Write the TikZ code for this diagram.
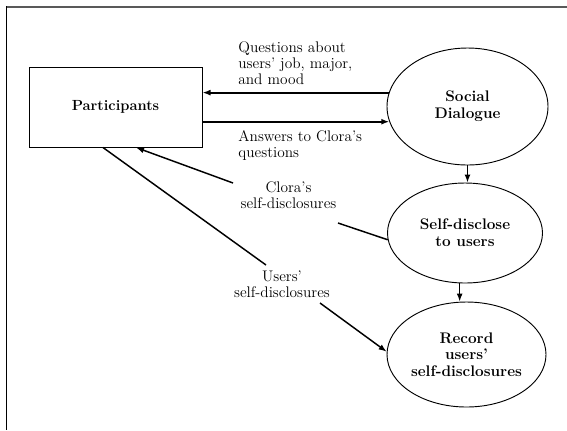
\documentclass[tikz,border=0pt]{standalone}
\usepackage{tikz}
\usetikzlibrary{shapes.geometric, arrows.meta, positioning}

\begin{document}
\begin{tikzpicture}[x=0.75pt, y=-0.75pt,
  font=\fontsize{11.5}{12}\selectfont,
  proc/.style={draw, ellipse, line width=0.7pt, inner sep=0pt, align=center,
               font=\fontsize{11.5}{12.5}\selectfont\bfseries},
  flow/.style={-{Latex[length=6pt,width=4.5pt]}, line width=1.1pt},
  link/.style={line width=1.1pt},
  lbl/.style={align=left, inner sep=1pt}]
  \useasboundingbox (0,0) rectangle (567,430);
  % frame
  \draw[gray!70!black, line width=1.2pt] (6,6.7) -- (567,6.7);
  \draw[line width=0.9pt] (6.5,6) -- (6.5,430);

  \node[draw, line width=0.75pt, minimum width=129.75pt, minimum height=60pt,
        font=\fontsize{11}{12}\selectfont\bfseries] (part) at (115.5,107) {Participants};
  \node[proc, minimum width=120.75pt, minimum height=87.75pt] (social) at (467.5,106.5)
    {Social\\Dialogue};
  \node[proc, minimum width=116.25pt, minimum height=75pt] (disclose) at (465,233)
    {Self-disclose\\to users};
  \node[proc, minimum width=119.25pt, minimum height=78.75pt] (record) at (466.5,354.5)
    {Record\\users'\\self-disclosures};

  % social dialogue exchange
  \draw[flow, line width=1.5pt] (social.170) -- (part.east |- social.170)
    node[lbl, pos=0.82, above right, yshift=4pt] {Questions about\\users' job, major,\\and mood};
  \draw[flow, line width=1.5pt] (part.east |- social.191) -- (social.191)
    node[lbl, pos=0.18, below right, yshift=-5pt] {Answers to Clora's\\questions};
  \draw[flow] (social.south) -- (social.south |- disclose.north);
  \draw[flow] ([xshift=-4pt]disclose.south) -- ([xshift=-4pt]disclose.south |- record.north);

  % disclosures
  \node[lbl, align=center] (clora) at (288.5,195) {Clora's\\self-disclosures};
  \coordinate (c1) at (338,223);
  \coordinate (c2) at (233,183);
  \draw[link] (disclose.185) -- (c1);
  \draw[flow] (c2) -- ([xshift=15.4pt]part.south);

  \node[lbl, align=center] (users) at (282,284) {Users'\\self-disclosures};
  \coordinate (u1) at (266,265);
  \coordinate (u2) at (320,303);
  \draw[link] ([xshift=-9.4pt]part.south) -- (u1);
  \draw[flow] (u2) -- (record.178);
\end{tikzpicture}
\end{document}
